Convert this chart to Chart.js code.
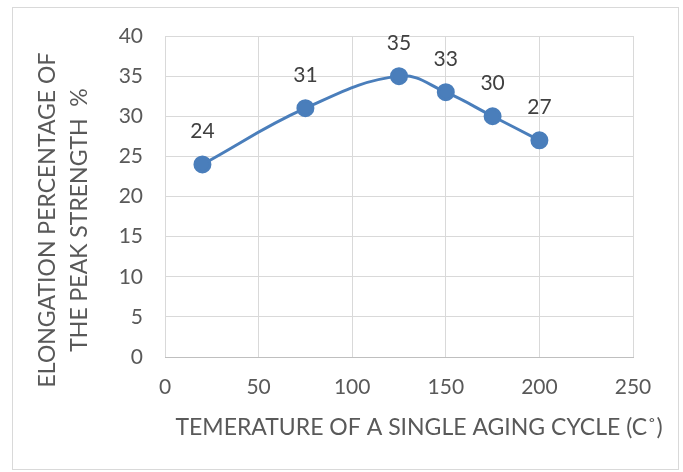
<!DOCTYPE html>
<html>
<head>
<meta charset="utf-8">
<script src="https://cdn.jsdelivr.net/npm/chart.js@4.4.1/dist/chart.umd.min.js"></script>
<style>
  html, body { margin: 0; padding: 0; background: #fff; }
  #wrap { position: relative; width: 683px; height: 472px; }
  #frame { position: absolute; left: 12px; top: 7px; width: 667px; height: 463px; border: 1px solid #d9d9d9; box-sizing: border-box; pointer-events: none; }
</style>
</head>
<body>
<div id="wrap">
  <canvas id="chart" width="683" height="472"></canvas>
  <div id="frame"></div>
</div>
<script>
// temperature (°C) vs elongation (%)
const temperatures = [20, 75, 125, 150, 175, 200];
const elongation = [24, 31, 35, 33, 30, 27];
const xTitle = 'TEMERATURE OF A SINGLE AGING CYCLE (C˚)';
const yTitle = ['ELONGATION PERCENTAGE OF', 'THE PEAK STRENGTH  %'];

const textColor = '#595959';
const lineColor = '#4a7ebb';
const fontFamily = 'Lato, "Open Sans", sans-serif';

// value labels above each point
const pointLabels = {
  id: 'pointLabels',
  afterDatasetsDraw(chart) {
    const ctx = chart.ctx;
    const meta = chart.getDatasetMeta(0);
    ctx.save();
    ctx.font = '21px ' + fontFamily;
    ctx.fillStyle = '#404040';
    ctx.textAlign = 'center';
    ctx.textBaseline = 'middle';
    meta.data.forEach((pt, i) => {
      ctx.fillText(String(elongation[i]), pt.x, pt.y - 33);
    });
    ctx.restore();
  }
};

// axis titles, placed by hand
const axisTitles = {
  id: 'axisTitles',
  afterDraw(chart) {
    const ctx = chart.ctx;
    ctx.save();
    ctx.fillStyle = textColor;
    ctx.textAlign = 'center';
    ctx.textBaseline = 'middle';
    ctx.font = '23px ' + fontFamily;
    ctx.fillText(xTitle, 419, 428);
    ctx.translate(0, 220);
    ctx.rotate(-Math.PI / 2);
    ctx.font = '23px ' + fontFamily;
    ctx.fillText(yTitle[0], 0, 48);
    ctx.fillText(yTitle[1], 0, 80);
    ctx.restore();
  }
};

const ctx = document.getElementById('chart').getContext('2d');
new Chart(ctx, {
  type: 'scatter',
  data: {
    datasets: [{
      data: temperatures.map((t, i) => ({ x: t, y: elongation[i] })),
      showLine: true,
      tension: 0.4,
      borderColor: lineColor,
      backgroundColor: lineColor,
      borderWidth: 3,
      pointRadius: 7.5,
      pointHoverRadius: 7.5
    }]
  },
  options: {
    responsive: false,
    animation: false,
    events: [],
    layout: { padding: { left: 0, right: 50, top: 36, bottom: 0 } },
    plugins: { legend: { display: false }, tooltip: { enabled: false } },
    scales: {
      x: {
        type: 'linear',
        min: 0, max: 250,
        ticks: { stepSize: 50, color: textColor, font: { size: 21, family: fontFamily }, padding: 18 },
        grid: { color: '#d9d9d9', drawTicks: false },
        border: { color: '#bfbfbf', width: 1 },
        afterFit(scale) { scale.height = 472 - 357; }
      },
      y: {
        min: 0, max: 40,
        ticks: { stepSize: 5, color: textColor, font: { size: 21, family: fontFamily }, padding: 22 },
        grid: { color: '#d9d9d9', drawTicks: false },
        border: { display: false },
        afterFit(scale) { scale.width = 165; }
      }
    }
  },
  plugins: [pointLabels, axisTitles]
});
</script>
</body>
</html>
